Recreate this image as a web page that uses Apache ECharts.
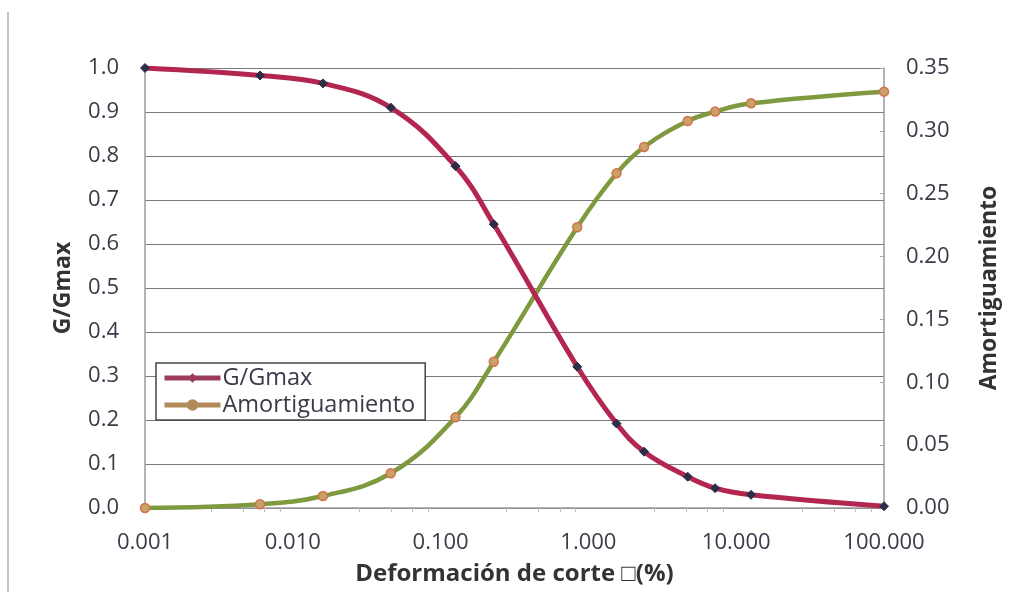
<!DOCTYPE html>
<html>
<head>
<meta charset="utf-8">
<script src="https://cdn.jsdelivr.net/npm/echarts@6/dist/echarts.min.js"></script>
<style>
html,body{margin:0;padding:0;background:#fff;}
#chart{width:1026px;height:592px;}
</style>
</head>
<body>
<div id="chart"></div>
<script>
// Shear strain (%) at each measured point
const strain = [0.001, 0.006, 0.016, 0.046, 0.126, 0.229, 0.84, 1.55, 2.38, 4.7, 7.2, 12.6, 100];
// G/Gmax values (left axis)
const gGmax = [1.0, 0.983, 0.965, 0.91, 0.777, 0.645, 0.321, 0.192, 0.128, 0.071, 0.045, 0.03, 0.004];
// Damping values (right axis)
const damping = [0.0, 0.003, 0.0095, 0.0276, 0.0721, 0.1164, 0.2233, 0.2662, 0.2872, 0.3078, 0.3153, 0.3219, 0.3312];
// Axis tick labels
const xTicks = ['0.001', '0.010', '0.100', '1.000', '10.000', '100.000'];
const seriesNames = ['G/Gmax', 'Amortiguamiento'];

const FONT = 'Open Sans';
const chart = echarts.init(document.getElementById('chart'), null, {renderer: 'canvas'});
const gData = strain.map((x, i) => [x, gGmax[i]]);
const dData = strain.map((x, i) => [x, damping[i]]);

chart.setOption({
  backgroundColor: '#ffffff',
  animation: false,
  textStyle: {fontFamily: FONT},
  graphic: [{
    type: 'line', shape: {x1: 8, y1: 12, x2: 8, y2: 592},
    style: {stroke: '#c4c4c4', lineWidth: 2}
  }],
  grid: {left: 145, right: 142, top: 68, bottom: 84, containLabel: false},
  legend: {
    orient: 'vertical', left: 156, top: 363,
    padding: [3, 10, 3, 6], itemGap: 3,
    itemWidth: 56, itemHeight: 12,
    backgroundColor: '#ffffff', borderColor: '#444', borderWidth: 1.5,
    textStyle: {fontFamily: FONT, fontSize: 23.5, color: '#3a3a48', padding: [0, 0, 0, -3]},
    data: [
      {name: seriesNames[0], itemStyle: {color: '#9c3b5c', borderColor: '#9c3b5c'}, lineStyle: {color: '#9c3b5c', width: 5}},
      {name: seriesNames[1], itemStyle: {color: '#b08a5a', borderColor: '#b08a5a'}, lineStyle: {color: '#b08a5a', width: 5}}
    ]
  },
  xAxis: {
    type: 'log', logBase: 10, min: 0.001, max: 100,
    name: 'Deformación de corte \u25A1(%)', nameLocation: 'middle', nameGap: 54,
    nameTextStyle: {fontFamily: FONT, fontSize: 24, fontWeight: 'bold', color: '#333'},
    axisLine: {show: true, onZero: false, lineStyle: {color: '#9a9a9a', width: 1.5}},
    axisTick: {show: false},
    minorTick: {show: true, splitNumber: 5, length: 4, lineStyle: {color: '#bbb'}},
    splitLine: {show: false},
    axisLabel: {
      fontFamily: FONT, fontSize: 22, color: '#3a3a48', margin: 24,
      formatter: function (v) {
        const e = Math.round(Math.log10(v)) + 3;
        return xTicks[e] !== undefined ? xTicks[e] : v.toFixed(3);
      }
    }
  },
  yAxis: [{
    type: 'value', min: 0, max: 1, interval: 0.1, position: 'left',
    name: 'G/Gmax', nameLocation: 'middle', nameGap: 70, nameRotate: 90,
    nameTextStyle: {fontFamily: FONT, fontSize: 23, fontWeight: 'bold', color: '#333'},
    axisLine: {show: true, lineStyle: {color: '#9a9a9a', width: 1.5}},
    axisTick: {show: false},
    splitLine: {show: true, lineStyle: {color: '#7a7a7a', width: 1}},
    axisLabel: {fontFamily: FONT, fontSize: 22, color: '#3a3a48', margin: 26,
      formatter: v => v.toFixed(1)}
  }, {
    type: 'value', min: 0, max: 0.35, interval: 0.05, position: 'right',
    name: 'Amortiguamiento', nameLocation: 'middle', nameGap: 94, nameRotate: 90,
    nameTextStyle: {fontFamily: FONT, fontSize: 23, fontWeight: 'bold', color: '#333'},
    axisLine: {show: true, lineStyle: {color: '#9a9a9a', width: 1.5}},
    axisTick: {show: true, inside: true, length: 4, lineStyle: {color: '#aaa'}},
    splitLine: {show: false},
    axisLabel: {fontFamily: FONT, fontSize: 22, color: '#3a3a48', margin: 22,
      formatter: v => v.toFixed(2)}
  }],
  series: [{
    name: seriesNames[0], type: 'line', yAxisIndex: 0, data: gData,
    smooth: 0.4, z: 4,
    symbol: 'diamond', symbolSize: 9,
    lineStyle: {color: '#b3264f', width: 5},
    itemStyle: {color: '#2d2d48', borderColor: '#2d2d48'}
  }, {
    name: seriesNames[1], type: 'line', yAxisIndex: 1, data: dData,
    smooth: 0.4, z: 3,
    symbol: 'circle', symbolSize: 9,
    lineStyle: {color: '#7f9a3e', width: 4.5},
    itemStyle: {color: '#c7a26a', borderColor: '#d4724a', borderWidth: 1.5}
  }]
});
</script>
</body>
</html>
